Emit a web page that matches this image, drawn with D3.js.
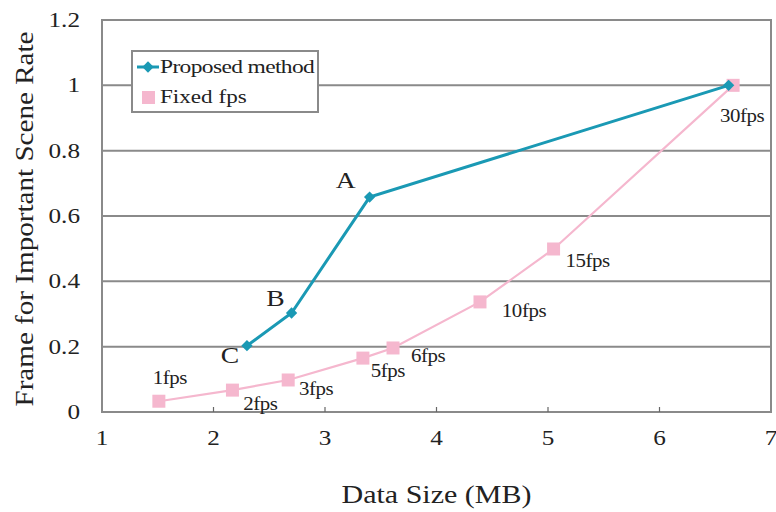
<!DOCTYPE html>
<html><head><meta charset="utf-8">
<script src="https://cdn.jsdelivr.net/npm/d3@7"></script>
<style>body{margin:0;background:#fff}svg{display:block}text{font-family:"Liberation Serif","Times New Roman",serif;fill:#222}</style>
</head><body>
<svg id="c" width="776" height="512"></svg>
<script>
const xTicks = [1,2,3,4,5,6,7];
const yTicks = [0,0.2,0.4,0.6,0.8,1,1.2];
const yTickLabels = ["0","0.2","0.4","0.6","0.8","1","1.2"];
const propX = [2.30,2.70,3.40,6.62];
const propY = [0.203,0.303,0.658,1.0];
const propLabels = ["C","B","A",""];
const fixedX = [1.51,2.17,2.67,3.34,3.61,4.39,5.05,6.66];
const fixedY = [0.033,0.067,0.098,0.165,0.196,0.337,0.499,1.0];
const fixedLabels = ["1fps","2fps","3fps","5fps","6fps","10fps","15fps","30fps"];
const seriesNames = ["Proposed method","Fixed fps"];

const svg = d3.select("#c");
const L=102,R=771,T=20,B=412;
const x = d3.scaleLinear().domain([1,7]).range([L,R]);
const y = d3.scaleLinear().domain([0,1.2]).range([B,T]);
const teal="#1a99b4", pink="#f5b7ce", grid="#8a8a8a";

function txt(g, px, py, s, size, sx, anchor, rot){
  return g.append("text")
    .attr("transform",`translate(${px},${py})${rot?` rotate(${rot})`:""} scale(${sx},1)`)
    .attr("text-anchor",anchor||"start").attr("font-size",size).text(s);
}

// gridlines
svg.append("g").selectAll("line").data(yTicks).join("line")
  .attr("x1",L).attr("x2",R).attr("y1",d=>y(d)).attr("y2",d=>y(d))
  .attr("stroke",grid).attr("stroke-width",2);
svg.append("rect").attr("x",L).attr("y",T).attr("width",R-L).attr("height",B-T)
  .attr("fill","none").attr("stroke",grid).attr("stroke-width",2);

// x axis inward ticks
svg.append("g").selectAll("line").data(xTicks.slice(1,-1)).join("line")
  .attr("x1",d=>x(d)).attr("x2",d=>x(d)).attr("y1",B-5).attr("y2",B)
  .attr("stroke","#666").attr("stroke-width",1.2);

// tick labels
const tg = svg.append("g");
xTicks.forEach(d=>txt(tg, x(d), B+33, String(d), 21, 1.2, "middle"));
yTicks.forEach((d,i)=>txt(tg, L-22, y(d)+7, yTickLabels[i], 21, 1.2, "end"));

// axis titles
txt(svg, (L+R)/2+0, 503, "Data Size (MB)", 25, 1.2, "middle");
txt(svg, 33, 219, "Frame for Important Scene Rate", 26, 1.12, "middle", -90);

const line = d3.line().x(d=>x(d[0])).y(d=>y(d[1]));
const fixed = fixedX.map((v,i)=>[v,fixedY[i]]);
const prop = propX.map((v,i)=>[v,propY[i]]);

svg.append("path").datum(fixed).attr("d",line).attr("fill","none")
  .attr("stroke",pink).attr("stroke-width",2.2);
svg.append("g").selectAll("rect").data(fixed).join("rect")
  .attr("x",d=>x(d[0])-6.5).attr("y",d=>y(d[1])-6.5).attr("width",13).attr("height",13)
  .attr("fill",pink);

svg.append("path").datum(prop).attr("d",line).attr("fill","none")
  .attr("stroke",teal).attr("stroke-width",3);
svg.append("g").selectAll("path").data(prop).join("path")
  .attr("transform",d=>`translate(${x(d[0])},${y(d[1])}) rotate(45)`)
  .attr("d",d3.symbol().type(d3.symbolSquare).size(64)).attr("fill",teal);

// point labels
const fixedOff = [[11,-17],[28,20],[28,15],[25,19],[35,14],[44,15],[34,18],[9,37]];
const lg1 = svg.append("g");
fixed.forEach((d,i)=>txt(lg1, x(d[0])+fixedOff[i][0], y(d[1])+fixedOff[i][1], fixedLabels[i], 19, 1.1, "middle").attr("letter-spacing",-0.4));
const propOff = [[-17,17],[-16,-7],[-24,-9]];
prop.slice(0,3).forEach((d,i)=>txt(lg1, x(d[0])+propOff[i][0], y(d[1])+propOff[i][1], propLabels[i], 24, 1.15, "middle"));

// legend
const lg = svg.append("g").attr("transform","translate(132,51)");
lg.append("rect").attr("width",186).attr("height",61).attr("fill","#fff")
  .attr("stroke",grid).attr("stroke-width",2);
lg.append("line").attr("x1",5).attr("x2",27).attr("y1",16).attr("y2",16).attr("stroke",teal).attr("stroke-width",3);
lg.append("path").attr("transform","translate(16,16) rotate(45)").attr("d",d3.symbol().type(d3.symbolSquare).size(64)).attr("fill",teal);
lg.append("rect").attr("x",10).attr("y",40).attr("width",13).attr("height",13).attr("fill",pink);
txt(lg, 28, 22, seriesNames[0], 18.5, 1.27, "start").attr("letter-spacing",-0.5);
txt(lg, 28, 52, seriesNames[1], 18.5, 1.25, "start");
</script>
</body></html>
